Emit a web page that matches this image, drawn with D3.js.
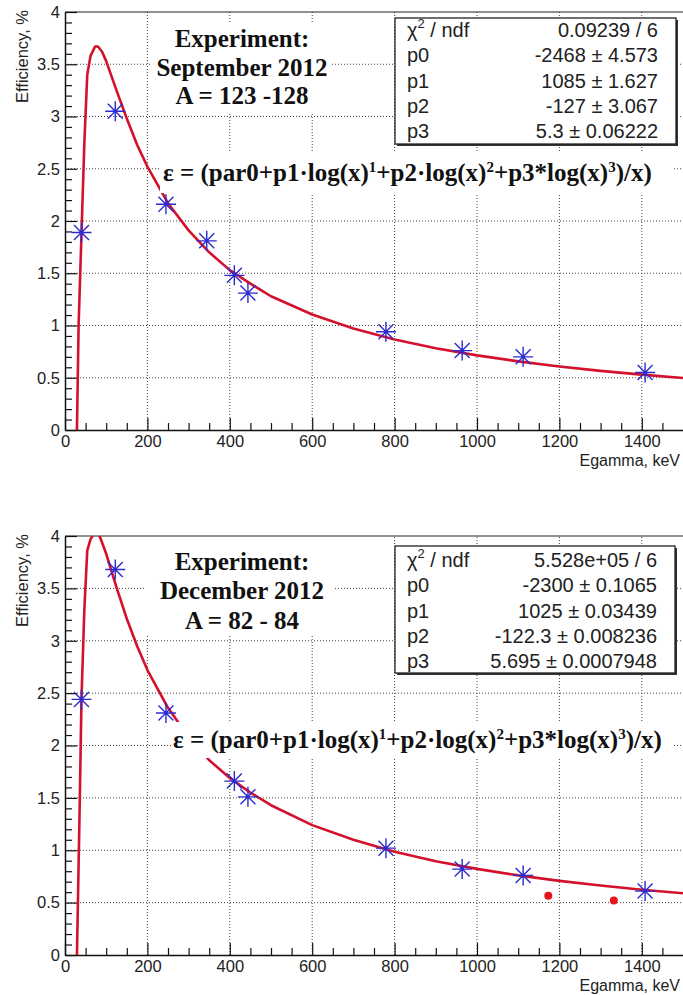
<!DOCTYPE html>
<html><head><meta charset="utf-8">
<script src="https://cdn.jsdelivr.net/npm/d3@7"></script>
<style>body{margin:0;background:#fff}</style>
</head><body>
<script>
const W = 683, H = 995;

// tick values
const xTicks = [0, 200, 400, 600, 800, 1000, 1200, 1400];
const yTicks = [0, 0.5, 1, 1.5, 2, 2.5, 3, 3.5, 4];

// top panel: September 2012
const topStarE   = [40, 122, 245, 344, 411, 444, 779, 964, 1112, 1408];
const topStarEff = [1.89, 3.05, 2.16, 1.81, 1.48, 1.31, 0.94, 0.76, 0.70, 0.55];
const topFitE    = [29, 33, 37, 41, 47, 54, 62, 73, 80, 90, 100, 125, 150, 175, 200, 250, 300, 350, 400, 450, 500, 600, 700, 800, 900, 1000, 1100, 1200, 1300, 1400, 1500];
const topFitEff  = [0, 1.0, 1.5, 2.0, 2.75, 3.4, 3.58, 3.67, 3.67, 3.62, 3.53, 3.25, 2.98, 2.73, 2.52, 2.17, 1.91, 1.70, 1.53, 1.40, 1.28, 1.105, 0.971, 0.866, 0.782, 0.714, 0.657, 0.608, 0.566, 0.530, 0.498];
const topTitle   = ["Experiment:", "September 2012", "A = 123 -128"];
const topStatVals = ["0.09239 / 6", "-2468 \u00b1 4.573", "1085 \u00b1 1.627", "-127 \u00b1 3.067", "5.3 \u00b1 0.06222"];

// bottom panel: December 2012
const botStarE   = [40, 122, 245, 411, 444, 779, 964, 1112, 1408];
const botStarEff = [2.44, 3.68, 2.31, 1.66, 1.51, 1.02, 0.82, 0.76, 0.61];
const botDotE    = [1173, 1332];
const botDotEff  = [0.565, 0.52];
const botFitE    = [29, 36, 40, 47, 54, 62, 75, 85, 100, 125, 150, 175, 200, 250, 300, 350, 400, 450, 500, 600, 700, 800, 900, 1000, 1100, 1200, 1300, 1400, 1500];
const botFitEff  = [0, 1.5, 2.45, 3.3, 3.86, 3.97, 4.05, 3.99, 3.83, 3.51, 3.21, 2.95, 2.72, 2.36, 2.08, 1.86, 1.69, 1.55, 1.43, 1.24, 1.10, 0.985, 0.895, 0.822, 0.760, 0.708, 0.663, 0.623, 0.589];
const botTitle   = ["Experiment:", "December 2012", "A = 82 - 84"];
const botStatVals = ["5.528e+05 / 6", "-2300 \u00b1 0.1065", "1025 \u00b1 0.03439", "-122.3 \u00b1 0.008236", "5.695 \u00b1 0.0007948"];

const statNames = ["chi", "p0", "p1", "p2", "p3"];

const SANS = "'Liberation Sans', Arial, sans-serif";
const SERIF = "'Liberation Serif', 'Times New Roman', serif";

var svg = d3.select('body').append('svg')
  .attr('width', W).attr('height', H)
  .style('background-color', 'white');

var panels = [
  {id: 'top', y0: 430, y1: 12, fitE: topFitE, fitEff: topFitEff, starE: topStarE, starEff: topStarEff,
   dotE: [], dotEff: [], title: topTitle, titleBase: [46.5, 75.5, 104], titleBox: [152, 22, 180, 90],
   formBase: 181, formBox: [160, 153, 512, 40], formX: 163,
   stats: topStatVals, statBox: [395, 18, 281, 126], statBase: 37},
  {id: 'bot', y0: 955, y1: 536, fitE: botFitE, fitEff: botFitEff, starE: botStarE, starEff: botStarEff,
   dotE: botDotE, dotEff: botDotEff, title: botTitle, titleBase: [570, 599, 628.5], titleBox: [145, 537, 190, 97],
   formBase: 748, formBox: [172, 722, 500, 36], formX: 173,
   stats: botStatVals, statBox: [395, 546, 280, 127], statBase: 567}
];

panels.forEach(function(p){
  var x = d3.scaleLinear().domain([0, 1500]).range([65, 683]);
  var y = d3.scaleLinear().domain([0, 4]).range([p.y0, p.y1]);
  var g = svg.append('g');

  g.append('clipPath').attr('id', 'clip-' + p.id)
    .append('rect').attr('x', 65).attr('y', p.y1).attr('width', 683 - 65).attr('height', p.y0 - p.y1);

  // grid
  g.selectAll('.vgrid').data(xTicks.slice(1)).enter().append('line')
    .attr('x1', d => x(d)).attr('x2', d => x(d)).attr('y1', p.y0).attr('y2', p.y1)
    .attr('stroke', '#444').attr('stroke-width', 1).attr('stroke-dasharray', '1,2');
  g.selectAll('.hgrid').data(yTicks.slice(1, -1)).enter().append('line')
    .attr('x1', 65).attr('x2', 683).attr('y1', d => y(d)).attr('y2', d => y(d))
    .attr('stroke', '#444').attr('stroke-width', 1).attr('stroke-dasharray', '1,2');

  // frame top
  g.append('line').attr('x1', 65).attr('x2', 683).attr('y1', p.y1).attr('y2', p.y1)
    .attr('stroke', '#222').attr('stroke-width', 1.2);

  // minor ticks
  g.append('g').attr('transform', 'translate(0,' + p.y0 + ')')
    .call(d3.axisBottom(x).tickValues(d3.range(50, 1500, 50).filter(d => d % 200 != 0)).tickSizeInner(-7).tickSizeOuter(0).tickFormat(''))
    .call(a => a.select('.domain').remove());
  g.append('g').attr('transform', 'translate(65,0)')
    .call(d3.axisLeft(y).tickValues(d3.range(1, 40).filter(d => d % 5 != 0).map(d => d / 10)).tickSizeInner(-7).tickSizeOuter(0).tickFormat(''))
    .call(a => a.select('.domain').remove());

  // major axes
  var xa = g.append('g').attr('transform', 'translate(0,' + p.y0 + ')')
    .call(d3.axisBottom(x).tickValues(xTicks).tickSizeInner(-12).tickSizeOuter(0).tickPadding(5).tickFormat(d => String(d)));
  var ya = g.append('g').attr('transform', 'translate(65,0)')
    .call(d3.axisLeft(y).tickValues(yTicks).tickSizeInner(-12).tickSizeOuter(0).tickPadding(5).tickFormat(d => String(d)));
  [xa, ya].forEach(function(a){
    a.selectAll('text').attr('font-family', SANS).attr('font-size', 16.5).attr('fill', '#222');
    a.select('.domain').attr('stroke', '#111').attr('stroke-width', 1.5);
  });
  g.selectAll('.tick line').attr('stroke', '#111').attr('stroke-width', 1.2);

  // axis titles
  g.append('text').attr('transform', 'translate(28,' + (p.y1 - 2) + ') rotate(-90)')
    .attr('text-anchor', 'end').attr('font-family', SANS).attr('font-size', 16.5).attr('fill', '#222')
    .text('Efficiency, %');
  g.append('text').attr('x', 680).attr('y', p.y0 + 36)
    .attr('text-anchor', 'end').attr('font-family', SANS).attr('font-size', 16).attr('fill', '#222')
    .text('Egamma, keV');

  // fit curve
  var line = d3.line().x(d => x(d[0])).y(d => y(d[1]));
  g.append('path').datum(d3.zip(p.fitE, p.fitEff))
    .attr('clip-path', 'url(#clip-' + p.id + ')')
    .attr('fill', 'none').attr('stroke', '#d4112c').attr('stroke-width', 2.6)
    .attr('stroke-linejoin', 'round').attr('d', line);

  // data stars
  var r = 10, rd = 7.5;
  g.selectAll('.star').data(d3.zip(p.starE, p.starEff)).enter().append('path')
    .attr('d', function(d){
      var cx = x(d[0]), cy = y(d[1]);
      return 'M' + (cx - r) + ',' + cy + 'H' + (cx + r) +
             'M' + cx + ',' + (cy - r) + 'V' + (cy + r) +
             'M' + (cx - rd) + ',' + (cy - rd) + 'L' + (cx + rd) + ',' + (cy + rd) +
             'M' + (cx - rd) + ',' + (cy + rd) + 'L' + (cx + rd) + ',' + (cy - rd);
    })
    .attr('stroke', '#2b2bd0').attr('stroke-width', 1.4).attr('fill', 'none');

  g.selectAll('.dot').data(d3.zip(p.dotE, p.dotEff)).enter().append('circle')
    .attr('cx', d => x(d[0])).attr('cy', d => y(d[1])).attr('r', 4)
    .attr('fill', '#e3161b');

  // title block
  g.append('rect').attr('x', p.titleBox[0]).attr('y', p.titleBox[1])
    .attr('width', p.titleBox[2]).attr('height', p.titleBox[3]).attr('fill', 'white');
  g.selectAll('.ttl').data(p.title).enter().append('text')
    .attr('x', 242).attr('y', (d, i) => p.titleBase[i])
    .attr('text-anchor', 'middle').attr('font-family', SERIF).attr('font-weight', 'bold')
    .attr('font-size', 25).attr('fill', '#111').text(d => d);

  // formula
  g.append('rect').attr('x', p.formBox[0]).attr('y', p.formBox[1])
    .attr('width', p.formBox[2]).attr('height', p.formBox[3]).attr('fill', 'white');
  var ft = g.append('text').attr('x', p.formX).attr('y', p.formBase)
    .attr('font-family', SERIF).attr('font-weight', 'bold').attr('font-size', 25).attr('fill', '#111');
  var parts = [['\u03b5 = (par0+p1\u00b7log(x)', 0], ['1', 1], ['+p2\u00b7log(x)', 0], ['2', 1],
               ['+p3*log(x)', 0], ['3', 1], [')/x)', 0]];
  var up = false;
  parts.forEach(function(pt){
    var ts = ft.append('tspan').text(pt[0]);
    if (pt[1]) { ts.attr('font-size', 15).attr('dy', -9); up = true; }
    else if (up) { ts.attr('dy', 9); up = false; }
  });

  // stats box
  var sb = p.statBox;
  g.append('rect').attr('x', sb[0] + 2).attr('y', sb[1] + 2).attr('width', sb[2]).attr('height', sb[3]).attr('fill', '#333');
  g.append('rect').attr('x', sb[0]).attr('y', sb[1]).attr('width', sb[2]).attr('height', sb[3])
    .attr('fill', 'white').attr('stroke', '#222').attr('stroke-width', 1.3);
  statNames.forEach(function(n, i){
    var t = g.append('text').attr('x', sb[0] + 12).attr('y', p.statBase + i * 25.3)
      .attr('font-family', SANS).attr('font-size', 20).attr('fill', '#222');
    if (n == 'chi') {
      t.append('tspan').text('\u03c7');
      t.append('tspan').attr('font-size', 13).attr('dy', -9).text('2');
      t.append('tspan').attr('dy', 9).text(' / ndf');
    } else t.text(n);
    g.append('text').attr('x', sb[0] + sb[2] - 18).attr('y', p.statBase + i * 25.3)
      .attr('text-anchor', 'end').attr('font-family', SANS).attr('font-size', 20).attr('fill', '#222')
      .text(p.stats[i]);
  });
});
</script>
</body></html>
